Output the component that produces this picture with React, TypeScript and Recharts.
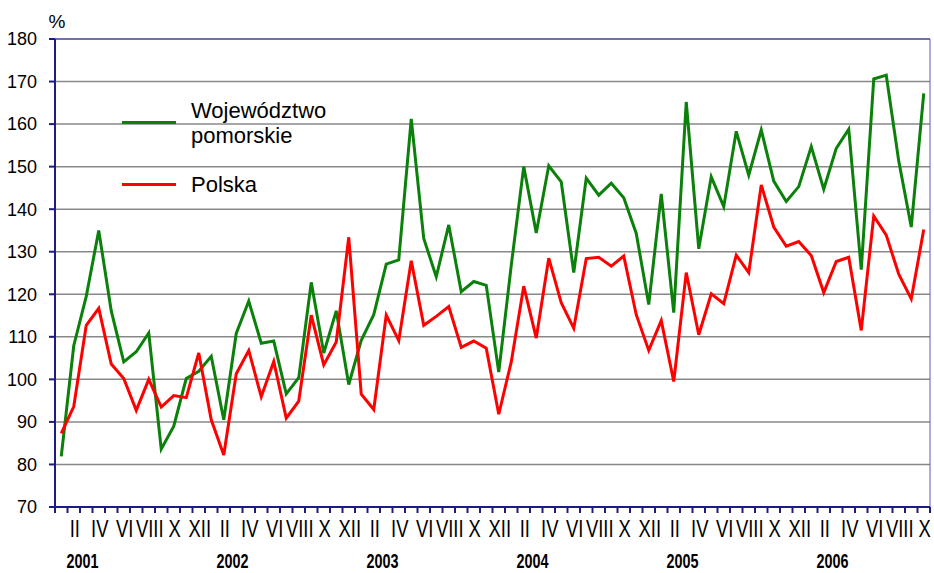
import React from 'react';
import { LineChart, Line, XAxis, YAxis, CartesianGrid, ReferenceLine } from 'recharts';

const romans = ['I', 'II', 'III', 'IV', 'V', 'VI', 'VII', 'VIII', 'IX', 'X', 'XI', 'XII'];
const years = ['2001', '2002', '2003', '2004', '2005', '2006'];
const yTicks = [70, 80, 90, 100, 110, 120, 130, 140, 150, 160, 170, 180];

// Województwo pomorskie, Jan 2001 .. Oct 2006
const wojewodztwo = [
  81.9, 107.9, 119.5, 135, 116.1, 104.1, 106.5, 110.9, 83.6, 89,
  100.2, 101.9, 105.4, 90.5, 110.8, 118.4, 108.5, 109, 96.6, 100.4,
  122.8, 106.2, 116.1, 98.8, 109.2, 115.2, 127.1, 128.1, 161.2, 133.1,
  124.1, 136.3, 120.6, 123, 122.1, 101.7, 126.8, 150, 134.4, 150.2,
  146.4, 125.1, 147.3, 143.3, 146.1, 142.7, 134.3, 117.6, 143.6, 115.7,
  165.2, 130.7, 147.6, 140.6, 158.3, 148, 158.6, 146.6, 141.8, 145.3,
  154.7, 144.7, 154.3, 158.8, 125.8, 170.6, 171.5, 151.3, 135.8, 167.2,
];

// Polska, Jan 2001 .. Oct 2006
const polska = [
  87.3, 93.6, 112.7, 116.7, 103.6, 100.2, 92.7, 100, 93.5, 96.2,
  95.7, 106.2, 90.5, 82.2, 101.3, 106.8, 95.9, 104.2, 90.9, 94.9,
  115.1, 103.4, 108.8, 133.4, 96.5, 92.9, 115.1, 109.1, 127.9, 112.7,
  114.8, 117.1, 107.5, 109, 107.3, 91.8, 104.1, 121.9, 109.7, 128.5,
  118, 112, 128.4, 128.7, 126.6, 129, 115.2, 106.8, 113.8, 99.5,
  125.1, 110.5, 120.1, 117.8, 129.2, 125.1, 145.7, 135.8, 131.3, 132.4,
  129.1, 120.4, 127.7, 128.7, 111.5, 138.4, 133.9, 124.7, 118.9, 135.2,
];

const data = wojewodztwo.map((v, i) => ({ x: i + 0.5, woj: v, pol: polska[i] }));
const xTicks = Array.from({ length: wojewodztwo.length + 1 }, (_, k) => k);

const FONT = 'Liberation Sans, Arial, sans-serif';
const NAVY = '#1c1c84';

const XTick = (props: any) => {
  const { x, payload } = props;
  const k = payload.value as number;
  if (k >= wojewodztwo.length) return <g />;
  const m = k % 12;
  const band = 875 / 70;
  const cx = x + band / 2 + 1;
  const yearIdx = Math.floor(k / 12);
  return (
    <g>
      {m % 2 === 1 && (
        <text
          x={0}
          y={0}
          transform={`translate(${cx},537) scale(0.8,1)`}
          textAnchor="middle"
          fontSize={23}
          fontFamily={FONT}
          fill="#000"
        >
          {romans[m]}
        </text>
      )}
      {m === 2 && (
        <text
          x={0}
          y={0}
          transform={`translate(${x + 2.5},568) scale(0.72,1)`}
          textAnchor="middle"
          fontSize={20}
          fontWeight="bold"
          fontFamily={FONT}
          fill="#000"
        >
          {years[yearIdx]}
        </text>
      )}
    </g>
  );
};

export default function App() {
  return (
    <div style={{ position: 'absolute', left: 0, top: 0, width: 934, height: 573, background: '#fff' }}>
      <LineChart
        width={934}
        height={573}
        data={data}
        margin={{ top: 39, right: 4, bottom: 0, left: 0 }}
      >
        <CartesianGrid vertical={false} stroke="#888" strokeWidth={1.5} />
        <XAxis
          type="number"
          dataKey="x"
          domain={[0, 70]}
          ticks={xTicks}
          interval={0}
          height={66}
          tick={<XTick />}
          tickSize={6}
          axisLine={{ stroke: NAVY, strokeWidth: 2 }}
          tickLine={{ stroke: NAVY, strokeWidth: 2 }}
          allowDataOverflow
        />
        <YAxis
          domain={[70, 180]}
          ticks={yTicks}
          interval={0}
          width={55}
          tickSize={6}
          tickMargin={12}
          axisLine={{ stroke: NAVY, strokeWidth: 2 }}
          tickLine={{ stroke: NAVY, strokeWidth: 2 }}
          tick={{ fill: '#000', fontSize: 18, fontFamily: FONT }}
          allowDataOverflow
        />
        <ReferenceLine y={180} stroke="#3a3ab0" strokeWidth={1} ifOverflow="extendDomain" />
        <ReferenceLine x={70} stroke="#5a5ac0" strokeWidth={1} ifOverflow="extendDomain" />
        <Line
          type="linear"
          dataKey="woj"
          stroke="#0b800b"
          strokeWidth={3}
          dot={false}
          isAnimationActive={false}
        />
        <Line
          type="linear"
          dataKey="pol"
          stroke="#ff0000"
          strokeWidth={3}
          dot={false}
          isAnimationActive={false}
        />
      </LineChart>
      <svg
        width={934}
        height={573}
        style={{ position: 'absolute', left: 0, top: 0, pointerEvents: 'none' }}
      >
        <text x={57} y={28} textAnchor="middle" fontSize={19} fontFamily={FONT} fill="#000">%</text>
        <line x1={122} y1={122.5} x2={176} y2={122.5} stroke="#0b800b" strokeWidth={3} />
        <text x={191} y={118} fontSize={22} fontFamily={FONT} fill="#000">Województwo</text>
        <text x={191} y={143} fontSize={22} fontFamily={FONT} fill="#000">pomorskie</text>
        <line x1={122} y1={184.5} x2={176} y2={184.5} stroke="#ff0000" strokeWidth={3} />
        <text x={191} y={192} fontSize={22} fontFamily={FONT} fill="#000">Polska</text>
      </svg>
    </div>
  );
}
